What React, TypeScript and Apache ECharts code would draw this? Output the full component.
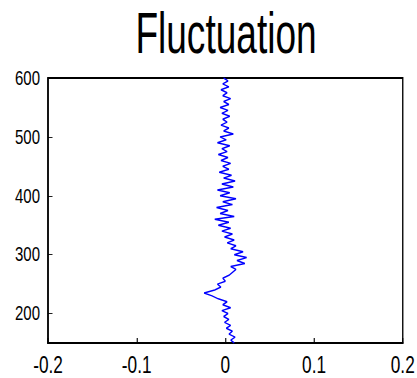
import React, { useEffect, useRef } from "react";
import * as echarts from "echarts";

const titleText = "Fluctuation";
const xTicks = [-0.2, -0.1, 0, 0.1, 0.2];
const yTicks = [200, 300, 400, 500, 600];
const depth = [
  150, 155, 160, 165, 170, 175, 180, 185, 190, 195, 200, 205, 210, 215, 220, 225, 230, 235, 240, 245,
  250, 255, 260, 265, 270, 275, 280, 285, 290, 295, 300, 305, 310, 315, 320, 325, 330, 335, 340, 345,
  350, 355, 360, 365, 370, 375, 380, 385, 390, 395, 400, 405, 410, 415, 420, 425, 430, 435, 440, 445,
  450, 455, 460, 465, 470, 475, 480, 485, 490, 495, 500, 505, 510, 515, 520, 525, 530, 535, 540, 545,
  550, 555, 560, 565, 570, 575, 580, 585, 590, 595, 600,
];
const fluct = [
  0.010, 0.006, 0.011, 0.004, 0.008, 0.001, 0.006, -0.001, 0.004, -0.002, 0.003, -0.004, 0.006, -0.003, 0.002, -0.008, -0.015, -0.024, -0.012, -0.005,
  -0.009, 0.0, -0.003, 0.004, 0.008, 0.012, 0.006, 0.022, 0.013, 0.024, 0.01, 0.02, 0.006, 0.012, 0.002, 0.01, -0.001, 0.008, -0.004, 0.006,
  -0.008, 0.004, -0.012, 0.01, -0.006, 0.003, -0.01, 0.008, -0.003, 0.012, -0.006, 0.005, -0.009, 0.009, -0.004, 0.011, -0.002, 0.007, -0.007, 0.004,
  -0.003, 0.006, -0.005, 0.003, -0.008, 0.002, -0.004, 0.005, -0.009, 0.001, -0.006, 0.009, -0.002, 0.004, -0.005, 0.002, -0.003, 0.005, -0.004, 0.003,
  -0.006, 0.004, -0.002, 0.006, -0.003, 0.002, -0.005, 0.004, -0.003, 0.003, -0.002,
];

const SX = 0.75; // horizontal squeeze of the whole picture
const W = 417 / SX;
const font = "'Liberation Sans', Arial, sans-serif";

export default function App() {
  const ref = useRef<HTMLDivElement>(null);
  useEffect(() => {
    if (!ref.current) return;
    const chart = echarts.init(ref.current, null, { renderer: "svg" });
    chart.setOption({
      animation: false,
      backgroundColor: "#ffffff",
      graphic: [
        {
          type: "text",
          x: 226 / SX,
          y: 33,
          scaleX: 0.65 / SX,
          style: {
            text: titleText,
            font: "57px " + font,
            fill: "#000",
            textAlign: "center",
            textVerticalAlign: "middle",
          },
        },
      ],
      grid: {
        left: 48 / SX,
        right: 11 / SX,
        top: 78,
        bottom: 35,
        show: true,
        borderColor: "#000",
        borderWidth: 1.8,
        backgroundColor: "#fff",
      },
      xAxis: {
        type: "value",
        min: -0.2,
        max: 0.2,
        interval: 0.1,
        splitLine: { show: false },
        axisLine: { show: true, onZero: false, lineStyle: { color: "#000", width: 1.8 } },
        axisTick: { show: true, inside: true, length: 5, lineStyle: { color: "#000", width: 1.5 } },
        axisLabel: {
          color: "#000",
          fontSize: 23,
          fontFamily: font,
          margin: 11,
          formatter: (v: number) => {
            const m = xTicks.find((t) => Math.abs(t - v) < 1e-9);
            return m === undefined ? "" : String(m);
          },
        },
      },
      yAxis: {
        type: "value",
        min: 150,
        max: 600,
        splitLine: { show: false },
        axisLine: { show: true, onZero: false, lineStyle: { color: "#000", width: 2 } },
        axisTick: { show: true, inside: true, length: 6, lineStyle: { color: "#000" }, customValues: yTicks },
        axisLabel: {
          color: "#000",
          fontSize: 20,
          fontFamily: font,
          margin: 8 / SX,
          padding: [7, 0, 0, 0],
          customValues: yTicks,
        },
      },
      series: [
        {
          type: "line",
          data: depth.map((d, i) => [fluct[i], d]),
          showSymbol: false,
          symbol: "none",
          lineStyle: { color: "#0000ff", width: 1.5 },
        },
      ],
    });
    return () => chart.dispose();
  }, []);
  return (
    <div
      ref={ref}
      style={{
        position: "fixed",
        left: 0,
        top: 0,
        width: W,
        height: 378,
        background: "#fff",
        transform: `scaleX(${SX})`,
        transformOrigin: "0 0",
      }}
    />
  );
}
